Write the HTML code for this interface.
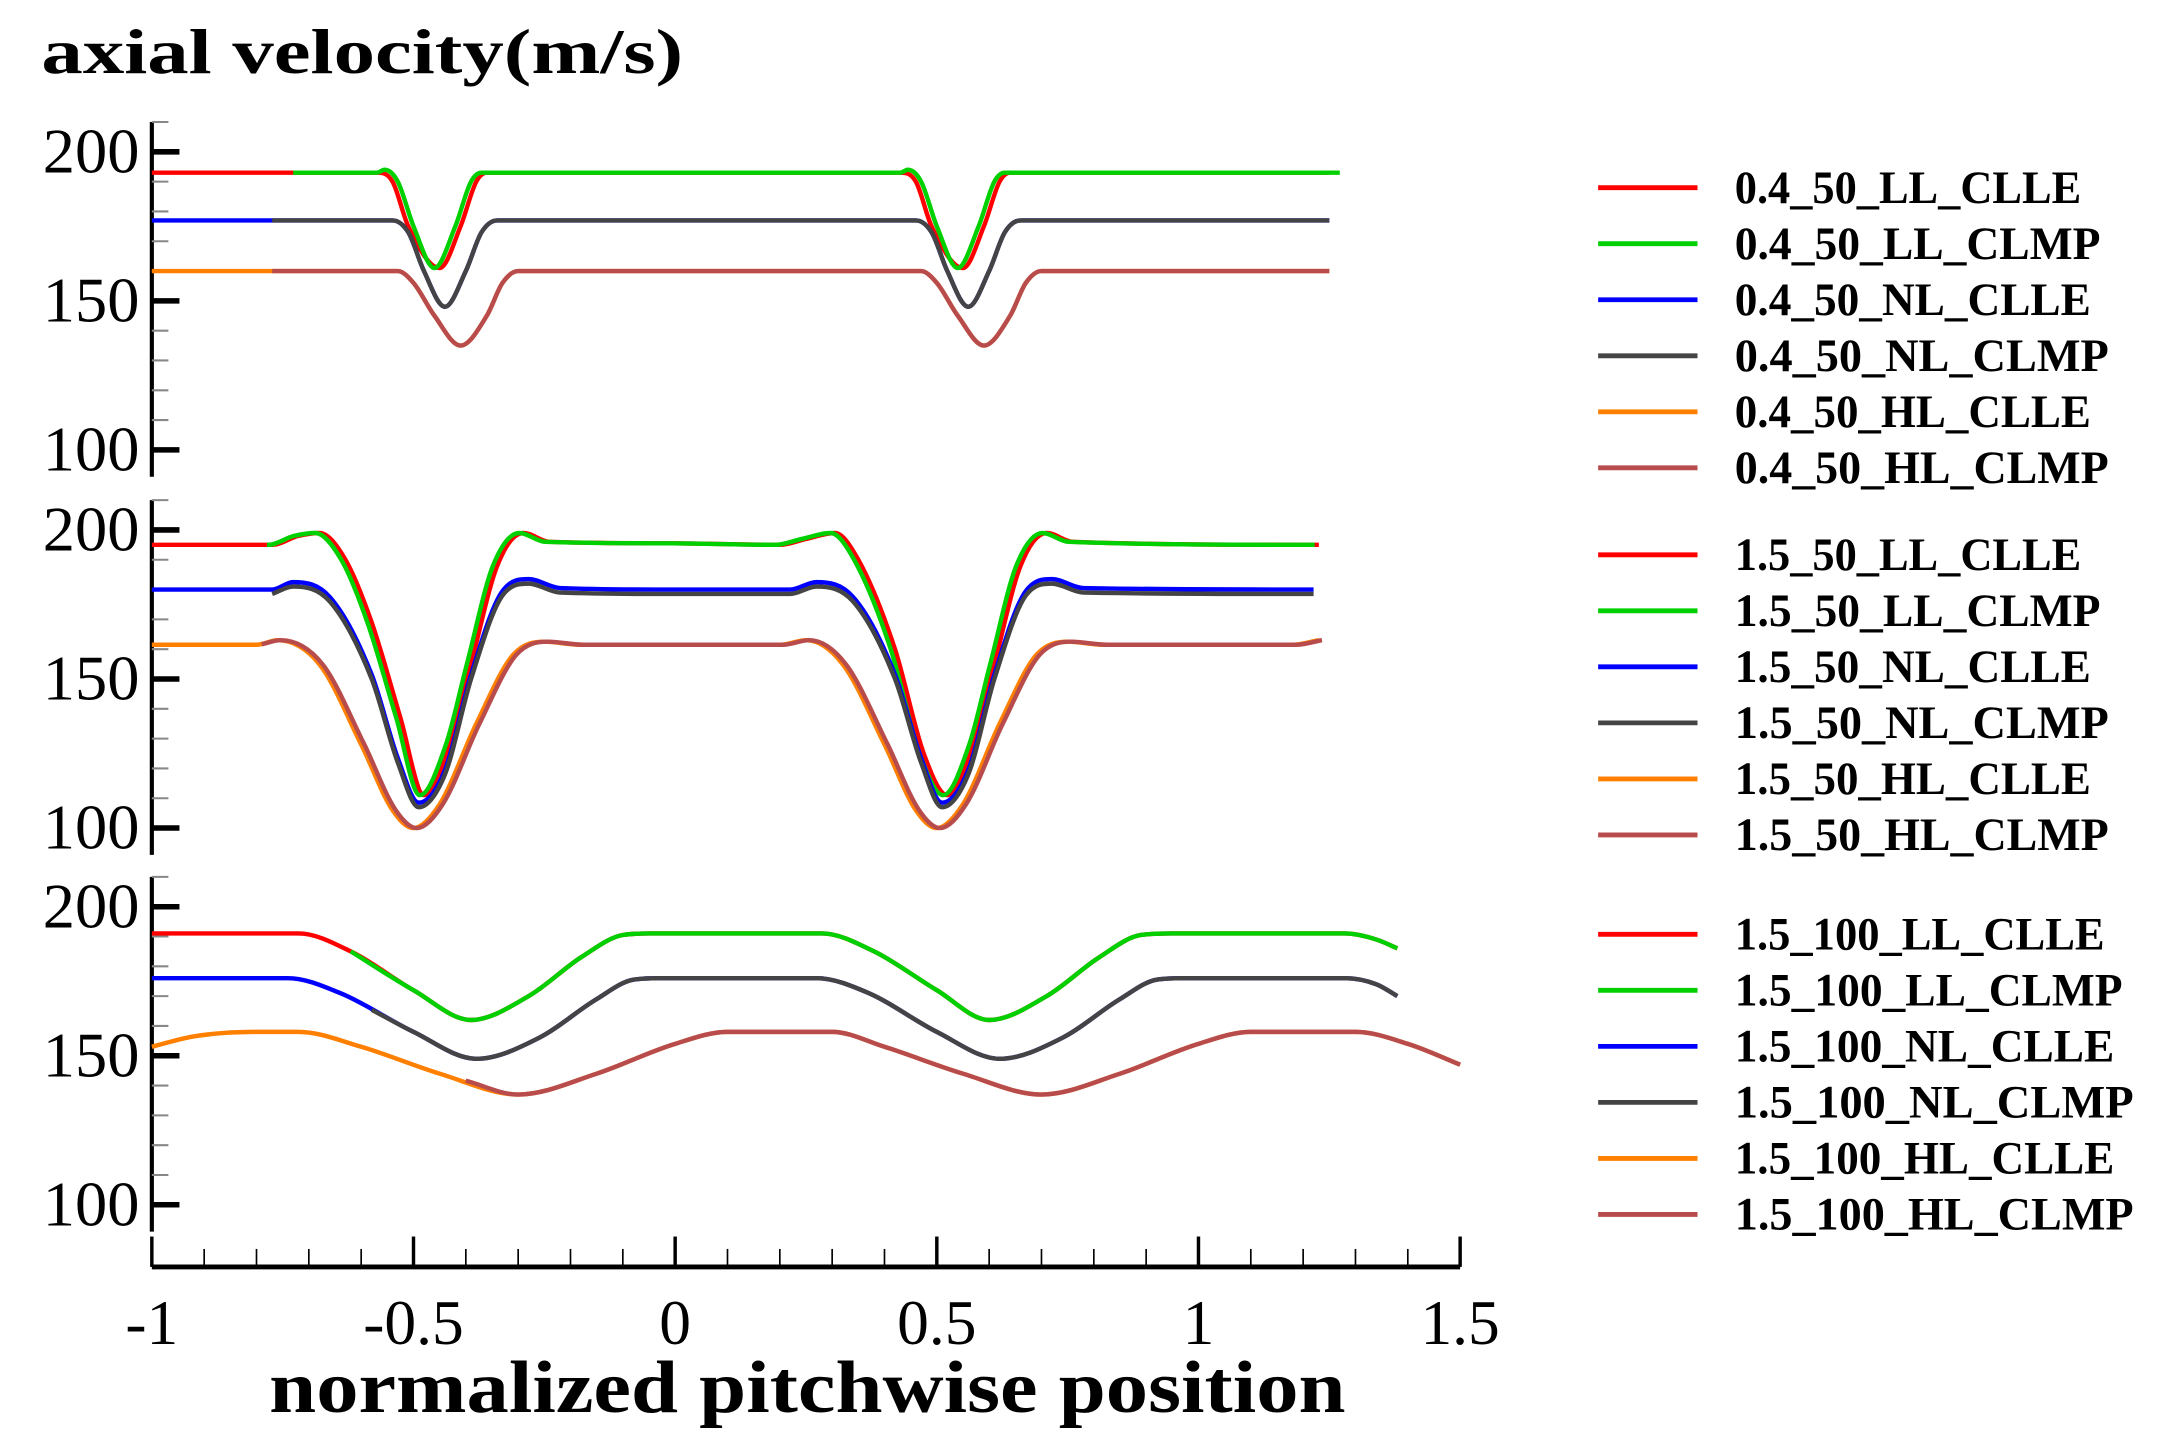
<!DOCTYPE html>
<html><head><meta charset="utf-8"><style>
html,body{margin:0;padding:0;background:#fff;width:2164px;height:1455px;overflow:hidden}
svg{display:block}
text{font-family:"Liberation Serif",serif;fill:#000}
</style></head><body>
<svg id="chart" width="2164" height="1455" viewBox="0 0 1568 1054.3" xmlns="http://www.w3.org/2000/svg">
<text x="30" y="53" font-size="46" font-weight="bold" textLength="465" lengthAdjust="spacingAndGlyphs">axial velocity(m/s)</text>
<text x="195" y="1023" font-size="54" font-weight="bold" textLength="780" lengthAdjust="spacingAndGlyphs">normalized pitchwise position</text>
<g id="axes"></g>
<g id="series"></g>
<g id="legend"></g>
</svg>
<script>
// ---- data ----
const xTicks = [-1, -0.5, 0, 0.5, 1, 1.5];
const xTickLabels = ["-1", "-0.5", "0", "0.5", "1", "1.5"];
const yTicks = [100, 150, 200];
const yTickLabels = ["100", "150", "200"];

// Panel 1 (0.4_50)
const p1_LL_CLLE_x = [-1,-0.57,-0.54,-0.51,-0.45,-0.41,-0.38,-0.36,0.43,0.46,0.49,0.55,0.59,0.62,0.64,1.25];
const p1_LL_CLLE_y = [193,193,190,175,161,175,190,193,193,190,175,161,175,190,193,193];
const p1_LL_CLMP_x = [-0.73,-0.57,-0.555,-0.53,-0.5,-0.46,-0.42,-0.39,-0.37,0.43,0.445,0.47,0.5,0.54,0.58,0.61,0.63,1.27];
const p1_LL_CLMP_y = [193,193,194,190,175,161,175,190,193,193,194,190,175,161,175,190,193,193];
const p1_NL_x = [-1,-0.54,-0.51,-0.48,-0.44,-0.40,-0.37,-0.34,0.46,0.49,0.52,0.56,0.60,0.63,0.66,1.25];
const p1_NL_y = [177,177,173,160,148,160,173,177,177,173,160,148,160,173,177,177];
const p1_HL_x = [-1,-0.53,-0.50,-0.46,-0.41,-0.36,-0.33,-0.30,0.47,0.50,0.54,0.59,0.64,0.67,0.70,1.25];
const p1_HL_y = [160,160,156,145,135,145,156,160,160,156,145,135,145,156,160,160];

// Panel 2 (1.5_50)
const p2_LL_x = [-1,-0.77,-0.72,-0.68,-0.63,-0.58,-0.525,-0.48,-0.43,-0.39,-0.34,-0.29,-0.24,0,0.2,0.25,0.305,0.35,0.42,0.475,0.52,0.57,0.61,0.66,0.71,0.76,1.23];
const p2_LL_y = [195,195,198,199,190,169,137,111,128,155,188,199,196,195.5,195,197,199,190,160,125,111,128,155,188,199,196,195];
const p2_NL_x = [-1,-0.77,-0.73,-0.66,-0.58,-0.53,-0.49,-0.44,-0.39,-0.33,-0.28,-0.22,0,0.22,0.27,0.34,0.42,0.47,0.51,0.56,0.61,0.67,0.72,0.78,1.22];
const p2_NL_y = [178.5,178.5,181,176,150,122,107,118,150,178,182,179,178.5,178.5,181,176,150,122,107,118,150,178,182,179,178.5];
const p2_HL_x = [-1,-0.8,-0.76,-0.68,-0.6,-0.54,-0.5,-0.45,-0.38,-0.31,-0.25,-0.18,0,0.2,0.25,0.32,0.4,0.46,0.5,0.55,0.62,0.69,0.75,0.82,1.18,1.23];
const p2_HL_y = [161.5,161.5,163,155,128,106,100,108,135,158,162.5,161.5,161.5,161.5,163,155,128,106,100,108,135,158,162.5,161.5,161.5,163];

// Panel 3 (1.5_100)
const p3_LL_x = [-1,-0.72,-0.62,-0.5,-0.39,-0.28,-0.18,-0.1,-0.05,0.28,0.38,0.5,0.6,0.71,0.81,0.89,0.95,1.28,1.34,1.38];
const p3_LL_y = [191,191,185,172,162,170,183,190.5,191,191,185,172,162,170,183,190.5,191,191,189,186];
const p3_NL_x = [-1,-0.74,-0.64,-0.5,-0.38,-0.26,-0.15,-0.08,-0.03,0.27,0.37,0.5,0.62,0.74,0.85,0.92,0.97,1.28,1.34,1.38];
const p3_NL_y = [176,176,171,158,149,156,169,175.5,176,176,171,158,149,156,169,175.5,176,176,174,170];
const p3_HL_x = [-1,-0.92,-0.8,-0.72,-0.6,-0.45,-0.3,-0.15,0,0.1,0.3,0.4,0.55,0.7,0.85,1.0,1.1,1.3,1.4,1.5];
const p3_HL_y = [153,156.5,158,158,153,144,137,144,154,158,158,153,144,137,144,154,158,158,154,147];

const legendLabels = [
 ["0.4_50_LL_CLLE","0.4_50_LL_CLMP","0.4_50_NL_CLLE","0.4_50_NL_CLMP","0.4_50_HL_CLLE","0.4_50_HL_CLMP"],
 ["1.5_50_LL_CLLE","1.5_50_LL_CLMP","1.5_50_NL_CLLE","1.5_50_NL_CLMP","1.5_50_HL_CLLE","1.5_50_HL_CLMP"],
 ["1.5_100_LL_CLLE","1.5_100_LL_CLMP","1.5_100_NL_CLLE","1.5_100_NL_CLMP","1.5_100_HL_CLLE","1.5_100_HL_CLMP"]
];

// ---- layout ----
const NS = "http://www.w3.org/2000/svg";
const colors = ["#ff0000","#00d000","#0000ff","#444444","#ff8000","#b84c4c"];
const X0 = 110, X1 = 1058;
const xs = v => X0 + (v + 1) / 2.5 * (X1 - X0);
const panels = [{y200:110},{y200:384},{y200:657}];
const ysFor = p => v => p.y200 + (200 - v) * 108 / 50;

function mk(tag, attrs, parent){const e=document.createElementNS(NS,tag);for(const k in attrs)e.setAttribute(k,attrs[k]);parent.appendChild(e);return e;}
const axes = document.getElementById('axes');
const series = document.getElementById('series');
const legend = document.getElementById('legend');

// y axes
panels.forEach((p, pi) => {
  const ys = ysFor(p);
  const ax = mk('line',{x1:X0,x2:X0,y1:ys(210),y2:ys(91),stroke:'#000','stroke-width':3},axes);
  
  
  for (let v = 100; v <= 210; v += 10) {
    const major = v % 50 === 0;
    const t = mk('line',{x1:X0,x2:X0+(major?20:12),y1:ys(v),y2:ys(v),stroke:major?'#000':'#888','stroke-width':major?4:1.5},axes);
    
    
  }
  yTicks.forEach((v, i) => {
    const tx = mk('text',{x:101,y:ys(v)+15,'font-size':46,'text-anchor':'end',textLength:70,lengthAdjust:'spacingAndGlyphs'},axes);
    tx.textContent = yTickLabels[i];
    
    
  });
});

// x axis
const XA = 918;
const xl = mk('line',{x1:X0,x2:X1,y1:XA,y2:XA,stroke:'#000','stroke-width':3.5},axes);


for (let k = 0; k <= 25; k++) {
  const v = -1 + k * 0.1;
  const major = k % 5 === 0;
  const t = mk('line',{x1:xs(v),x2:xs(v),y1:XA,y2:XA-(major?22:13),stroke:'#000','stroke-width':major?2.5:1.2},axes);
  
  
}
xTicks.forEach((v, i) => {
  const tx = mk('text',{x:xs(v),y:974,'font-size':46,'text-anchor':'middle'},axes);
  tx.textContent = xTickLabels[i];
  
  
});

// monotone cubic path (no overshoot)
function pathFrom(xa, ya, ys, x0) {
  let X = xa.slice(), Y = ya.slice();
  if (x0 !== undefined) {
    const j = X.findIndex(v => v >= x0);
    if (j > 0 && X[j] > x0) {
      const f = (x0 - X[j-1]) / (X[j] - X[j-1]);
      X = [x0].concat(X.slice(j)); Y = [Y[j-1] + f*(Y[j]-Y[j-1])].concat(Y.slice(j));
    } else if (j >= 0) { X = X.slice(j); Y = Y.slice(j); }
  }
  const px = X.map(xs), py = Y.map(ys), n = px.length;
  const d = [], m = new Array(n);
  for (let i = 0; i < n-1; i++) d.push((py[i+1]-py[i])/(px[i+1]-px[i]));
  m[0] = d[0]; m[n-1] = d[n-2];
  for (let i = 1; i < n-1; i++) m[i] = (d[i-1]*d[i] <= 0) ? 0 : (d[i-1]+d[i])/2;
  for (let i = 0; i < n-1; i++) {
    if (d[i] === 0) { m[i] = 0; m[i+1] = 0; continue; }
    const a = m[i]/d[i], b = m[i+1]/d[i], s = a*a + b*b;
    if (s > 9) { const t = 3/Math.sqrt(s); m[i] = t*a*d[i]; m[i+1] = t*b*d[i]; }
  }
  let s = 'M' + px[0].toFixed(1) + ' ' + py[0].toFixed(1);
  for (let i = 0; i < n-1; i++) {
    const h = (px[i+1]-px[i])/3;
    s += ` C${(px[i]+h).toFixed(1)} ${(py[i]+m[i]*h).toFixed(1)} ${(px[i+1]-h).toFixed(1)} ${(py[i+1]-m[i+1]*h).toFixed(1)} ${px[i+1].toFixed(1)} ${py[i+1].toFixed(1)}`;
  }
  return s;
}
function draw(xa, ya, pi, ci, name, x0) {
  const ys = ysFor(panels[pi]);
  const p = mk('path',{d:pathFrom(xa, ya, ys, x0),fill:'none',stroke:colors[ci],'stroke-width':3.2,'stroke-linejoin':'round'},series);
  
  
}
// panel 1
draw(p1_LL_CLLE_x, p1_LL_CLLE_y, 0, 0, 'series-0.4-50-ll-clle');
draw(p1_LL_CLMP_x, p1_LL_CLMP_y, 0, 1, 'series-0.4-50-ll-clmp');
draw(p1_NL_x, p1_NL_y, 0, 2, 'series-0.4-50-nl-clle');
draw(p1_NL_x, p1_NL_y, 0, 3, 'series-0.4-50-nl-clmp', -0.77);
draw(p1_HL_x, p1_HL_y, 0, 4, 'series-0.4-50-hl-clle');
draw(p1_HL_x, p1_HL_y, 0, 5, 'series-0.4-50-hl-clmp', -0.77);
// panel 2
draw(p2_LL_x, p2_LL_y, 1, 0, 'series-1.5-50-ll-clle');
draw(p2_LL_x.map(v=>v-0.008), p2_LL_y, 1, 1, 'series-1.5-50-ll-clmp', -0.78);
draw(p2_NL_x, p2_NL_y.map(v=>v+1.5), 1, 2, 'series-1.5-50-nl-clle');
draw(p2_NL_x, p2_NL_y, 1, 3, 'series-1.5-50-nl-clmp', -0.77);
draw(p2_HL_x, p2_HL_y, 1, 4, 'series-1.5-50-hl-clle');
draw(p2_HL_x.map(v=>v+0.006), p2_HL_y, 1, 5, 'series-1.5-50-hl-clmp', -0.79);
// panel 3
draw(p3_LL_x, p3_LL_y, 2, 0, 'series-1.5-100-ll-clle');
draw(p3_LL_x, p3_LL_y, 2, 1, 'series-1.5-100-ll-clmp', -0.62);
draw(p3_NL_x, p3_NL_y, 2, 2, 'series-1.5-100-nl-clle');
draw(p3_NL_x, p3_NL_y, 2, 3, 'series-1.5-100-nl-clmp', -0.58);
draw(p3_HL_x, p3_HL_y, 2, 4, 'series-1.5-100-hl-clle');
draw(p3_HL_x, p3_HL_y, 2, 5, 'series-1.5-100-hl-clmp', -0.4);

// legend
const legendTops = [136, 402, 677];
const legendEnds = [[1508,1522,1515,1528,1515,1528],[1508,1522,1515,1528,1515,1528],[1525,1538,1532,1546,1532,1546]];
legendLabels.forEach((grp, g) => {
  grp.forEach((lab, i) => {
    const y = legendTops[g] + i * 40.6;
    const ln = mk('line',{x1:1158,x2:1230,y1:y,y2:y,stroke:colors[i],'stroke-width':3.5},legend);
    
    
    const tx = mk('text',{x:1257,y:y+11,'font-size':34,'font-weight':'bold',textLength:legendEnds[g][i]-1257,lengthAdjust:'spacingAndGlyphs'},legend);
    tx.textContent = lab;
    
    
  });
});
</script>
</body></html>
